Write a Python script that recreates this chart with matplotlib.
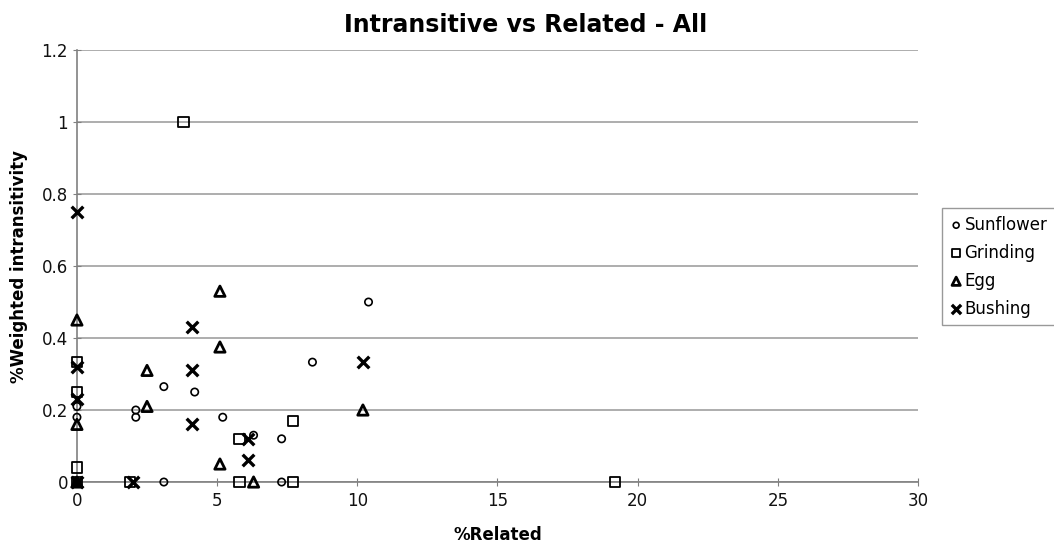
import matplotlib
matplotlib.use("Agg")
from matplotlib import pyplot as plt
from matplotlib.ticker import FuncFormatter

plt.rcParams['font.family'] = ['DejaVu Sans']

# Sunflower (circles)
sun_x = [0, 0, 2.1, 2.1, 3.1, 4.2, 5.2, 6.3, 3.1, 7.3, 7.3, 8.4, 10.4, 0]
sun_y = [0.21, 0.18, 0.2, 0.18, 0.265, 0.25, 0.18, 0.13, 0, 0.12, 0, 0.333, 0.5, 0]

# Grinding (squares)
grind_x = [3.8, 0, 0, 0, 0, 1.9, 5.8, 5.8, 7.7, 7.7, 19.2]
grind_y = [1.0, 0.333, 0.25, 0.04, 0, 0, 0.12, 0, 0.17, 0, 0]

# Egg (triangles)
egg_x = [0, 0, 0, 2.5, 2.5, 5.1, 5.1, 5.1, 6.3, 10.2]
egg_y = [0.45, 0.16, 0, 0.31, 0.21, 0.53, 0.375, 0.05, 0, 0.2]

# Bushing (crosses)
bush_x = [0, 0, 0, 0, 2.0, 4.1, 4.1, 4.1, 6.1, 6.1, 10.2]
bush_y = [0.75, 0.32, 0.23, 0, 0, 0.43, 0.31, 0.16, 0.12, 0.06, 0.333]

fig = plt.figure(figsize=(10.54, 5.57), dpi=100)
ax = fig.add_axes([0.073, 0.1346, 0.798, 0.7756])

ax.scatter(sun_x, sun_y, marker='o', s=28, facecolors='none', edgecolors='black',
           linewidths=1.2, label='Sunflower', zorder=3, clip_on=False)
ax.scatter(grind_x, grind_y, marker='s', s=55, facecolors='none', edgecolors='black',
           linewidths=1.3, label='Grinding', zorder=3, clip_on=False)
ax.scatter(egg_x, egg_y, marker='^', s=55, facecolors='none', edgecolors='black',
           linewidths=2.0, label='Egg', zorder=3, clip_on=False)
ax.scatter(bush_x, bush_y, marker='x', s=70, color='black',
           linewidths=2.4, label='Bushing', zorder=3, clip_on=False)

ax.set_xlim(0, 30)
ax.set_ylim(0, 1.2)
ax.set_xticks(range(0, 31, 5))
ax.set_yticks([0, 0.2, 0.4, 0.6, 0.8, 1.0, 1.2])
ax.yaxis.set_major_formatter(FuncFormatter(lambda v, p: '%g' % v))
ax.yaxis.grid(True, color='#a0a0a0', linewidth=1.2)
ax.set_axisbelow(True)
for s in ['top', 'right']:
    ax.spines[s].set_visible(False)
for s in ['left', 'bottom']:
    ax.spines[s].set_color('#808080')
    ax.spines[s].set_linewidth(1.2)
ax.tick_params(axis='both', direction='inout', length=6, color='#808080',
               labelsize=12, labelcolor='#111111')
ax.tick_params(axis='x', pad=4)

ax.set_title('Intransitive vs Related - All', fontsize=17, fontweight='bold', pad=13, x=0.533)
ax.set_xlabel('%Related', fontsize=12, fontweight='bold', labelpad=12)
ax.set_ylabel('%Weighted intransitivity', fontsize=12, fontweight='bold', labelpad=10)

leg = ax.legend(loc='upper left', bbox_to_anchor=(1.0285, 0.634), frameon=True,
                fancybox=False, fontsize=12, handletextpad=0.1, borderpad=0.45,
                labelspacing=0.6, handlelength=0.8, borderaxespad=0, markerscale=0.8)
leg.get_frame().set_edgecolor('#808080')
leg.get_frame().set_linewidth(1.0)

plt.savefig('out.png', dpi=100)
